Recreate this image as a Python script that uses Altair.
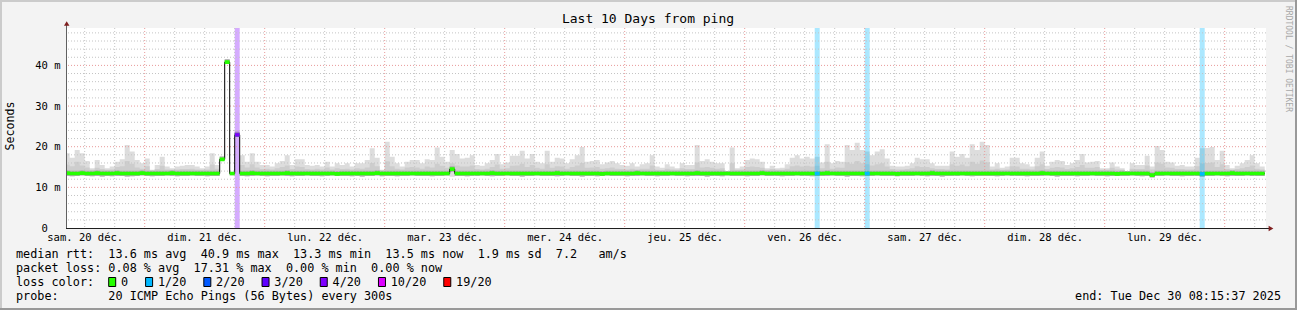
import altair as alt
import numpy as np
import pandas as pd

# ---------------- data ----------------
day_labels = ["sam. 20 déc.", "dim. 21 déc.", "lun. 22 déc.", "mar. 23 déc.", "mer. 24 déc.",
              "jeu. 25 déc.", "ven. 26 déc.", "sam. 27 déc.", "dim. 28 déc.", "lun. 29 déc."]

# time axis: hours since Sat 20 Dec 00:00 ; graph covers 08:15:37 + 10 days
range_start_h = 8 + 15 / 60 + 37 / 3600
range_end_h = range_start_h + 240
first_bar_h = 8          # hourly consolidated rows start at 08:00

# max ping of each hour (ms)
top_ms = [
    18.4,17.3,19.2,18.4,16.5,14.7,16.7,15.5,14.7,15.1,16.3,16.9,20.4,18.8,16.7,15.9,17.1,14.3,15.5,17.5,15.1,14.7,15.1,15.3,
    15.5,15.5,15.1,14.7,15.1,18.4,15.5,17.6,41.5,13.8,24.0,17.9,16.3,18.4,16.3,15.5,15.5,15.1,15.9,16.5,17.9,15.5,16.9,16.9,
    15.5,15.3,15.5,15.1,16.3,15.1,15.9,15.5,15.9,15.1,15.9,15.9,16.7,19.6,17.3,14.3,21.2,17.5,15.9,15.1,16.3,16.7,16.7,15.9,
    16.9,16.7,19.8,17.5,16.3,19.2,18.2,17.1,17.3,17.9,15.5,15.3,15.9,16.7,18.2,15.7,16.1,17.8,17.8,19.0,17.1,18.2,16.3,15.9,
    19.0,16.3,17.3,17.1,15.9,16.9,17.9,19.9,16.3,16.5,16.7,15.7,16.1,16.5,15.9,15.5,15.3,15.9,15.1,15.7,15.9,17.9,15.1,14.8,
    15.7,15.1,14.7,15.9,15.5,15.5,20.4,16.5,16.9,16.3,15.9,15.9,14.0,19.8,14.7,15.1,16.7,17.1,16.9,16.3,14.7,15.3,14.7,14.8,
    15.7,17.3,17.9,17.1,17.5,17.1,17.5,16.1,20.6,15.9,16.5,16.3,20.4,19.2,21.0,19.2,18.8,17.9,18.8,19.4,17.1,15.3,15.1,15.1,
    15.3,15.9,17.3,16.9,16.9,15.9,15.3,15.3,15.3,18.8,17.5,18.2,17.3,20.6,19.2,21.2,20.4,15.1,15.9,14.8,15.1,17.3,17.3,15.9,
    15.7,15.1,17.3,18.8,15.3,16.3,16.7,16.5,15.5,15.9,16.7,18.2,16.1,16.3,16.5,14.7,14.7,16.1,15.1,14.7,14.0,15.9,15.5,15.5,
    17.8,15.1,20.2,19.2,16.3,16.1,15.3,15.5,15.1,15.1,17.3,19.6,19.7,19.9,16.7,19.0,15.5,14.7,15.3,15.9,16.7,17.9,15.9,15.1,
]
# upper edge of the denser (mid grey) smoke
mid_ms = [
    15.6,15.2,16.3,15.4,14.9,14.3,14.8,14.5,14.3,14.4,15.0,15.2,16.5,15.8,14.9,14.6,15.2,14.1,14.5,15.3,14.4,14.3,14.4,14.5,
    14.5,14.6,14.4,14.3,14.4,15.6,14.6,17.3,41.2,13.8,23.6,15.5,14.9,15.7,14.9,14.5,14.6,14.4,14.7,15.0,15.4,14.5,15.1,15.0,
    14.5,14.4,14.6,14.4,14.9,14.4,14.7,14.5,14.6,14.4,14.7,14.6,14.9,16.0,15.2,14.1,16.4,15.2,14.6,14.4,14.9,15.0,14.9,14.6,
    15.1,14.9,15.8,15.3,14.8,15.9,15.4,15.1,15.1,15.4,14.5,14.4,14.6,15.0,15.6,14.6,14.7,15.3,15.4,15.8,15.0,15.5,14.8,14.6,
    15.7,14.8,15.2,15.1,14.6,15.0,15.4,16.0,14.8,14.9,15.0,14.6,14.7,14.9,14.6,14.5,14.4,14.6,14.4,14.6,14.6,15.4,14.3,14.2,
    14.6,14.4,14.3,14.7,14.5,14.5,16.1,14.9,15.0,14.8,14.6,14.7,14.0,15.9,14.3,14.4,15.0,15.1,15.0,14.8,14.3,14.5,14.3,14.3,
    14.6,15.2,15.4,15.1,15.3,15.1,15.3,14.7,16.3,14.6,14.9,14.8,16.2,15.8,16.5,15.9,15.7,15.4,15.7,15.9,15.1,14.5,14.4,14.4,
    14.5,14.7,15.2,15.0,15.0,14.7,14.5,14.5,14.4,15.7,15.3,15.6,15.2,16.3,15.8,16.6,16.2,14.4,14.6,14.3,14.4,15.2,15.1,14.6,
    14.6,14.4,15.2,15.7,14.5,14.8,15.0,14.9,14.5,14.7,15.0,15.5,14.8,14.8,15.0,14.3,14.3,14.8,14.4,14.3,14.0,14.6,14.5,14.5,
    15.4,14.4,16.1,15.8,14.9,14.8,14.5,14.5,14.4,14.4,15.2,15.9,16.0,16.1,15.0,15.7,14.5,14.3,14.5,14.7,15.0,15.4,14.6,14.4,
]
# min ping of each hour (ms)
min_ms = [
    12.8,12.7,12.8,12.9,12.8,12.7,12.8,12.6,12.8,12.7,12.8,12.8,12.6,12.7,12.8,12.9,12.8,12.7,12.8,12.8,12.9,12.8,12.7,12.8,
    12.8,12.9,12.8,12.8,12.7,12.8,12.8,16.6,40.5,13.0,22.6,12.8,12.7,12.8,12.9,12.8,12.7,12.8,12.8,12.9,12.8,12.7,12.8,12.8,
    12.9,12.8,12.8,12.7,12.8,12.9,12.8,12.8,12.8,12.7,12.8,12.6,12.8,12.8,12.9,12.7,12.8,12.8,12.7,12.8,12.8,12.9,12.8,12.8,
    12.8,12.7,12.8,12.8,12.9,12.6,12.8,12.8,12.7,12.8,12.8,12.9,12.8,12.7,12.8,12.8,12.9,12.8,12.8,12.6,12.8,12.8,12.9,12.8,
    12.8,12.8,12.7,12.8,12.9,12.8,12.8,12.6,12.8,12.8,12.7,12.8,12.9,12.8,12.8,12.8,12.7,12.8,12.8,12.9,12.8,12.8,12.7,12.8,
    12.8,12.9,12.8,12.8,12.7,12.8,12.8,12.8,12.6,12.8,12.8,12.7,12.9,12.8,12.8,12.8,12.7,12.8,12.8,12.9,12.8,12.8,12.8,12.7,
    12.8,12.8,12.9,12.8,12.8,12.7,12.8,12.8,12.8,12.9,12.8,12.8,12.6,12.8,12.8,12.7,12.8,12.8,12.9,12.8,12.8,12.8,12.7,12.8,
    12.8,12.8,12.9,12.8,12.7,12.8,12.8,12.6,12.8,12.8,12.8,12.9,12.8,12.7,12.8,12.8,12.8,12.8,12.7,12.8,12.9,12.8,12.8,12.8,
    12.7,12.8,12.8,12.8,12.9,12.8,12.6,12.8,12.8,12.8,12.7,12.8,12.8,12.9,12.8,12.8,12.7,12.8,12.8,12.8,12.8,12.9,12.8,12.7,
    12.8,12.4,12.8,12.8,12.9,12.8,12.8,12.7,12.8,12.8,12.8,12.6,12.8,12.8,12.9,12.8,12.7,12.8,12.8,12.8,12.9,12.8,12.8,12.8,
]
# median rtt of each hour (ms)
median_ms = [
    13.5,13.4,13.4,13.5,13.4,13.4,13.5,13.4,13.4,13.4,13.5,13.4,13.4,13.4,13.4,13.5,13.4,13.4,13.4,13.4,13.4,13.5,13.4,13.4,
    13.4,13.4,13.4,13.4,13.4,13.4,13.4,16.9,40.8,13.4,22.9,13.4,13.4,13.5,13.4,13.4,13.4,13.4,13.4,13.4,13.5,13.4,13.4,13.4,
    13.4,13.4,13.4,13.4,13.4,13.4,13.3,13.4,13.4,13.4,13.4,13.4,13.4,13.4,13.5,13.4,13.4,13.4,13.4,13.4,13.4,13.4,13.4,13.4,
    13.4,13.4,13.4,13.4,13.4,14.5,13.4,13.4,13.4,13.4,13.4,13.4,13.4,13.5,13.4,13.4,13.4,13.4,13.4,13.4,13.4,13.4,13.4,13.4,
    13.4,13.4,13.5,13.4,13.4,13.4,13.4,13.4,13.4,13.4,13.4,13.3,13.4,13.4,13.4,13.4,13.4,13.4,13.5,13.4,13.4,13.4,13.4,13.4,
    13.4,13.4,13.4,13.4,13.4,13.4,13.5,13.4,13.4,13.4,13.4,13.4,13.4,13.4,13.4,13.4,13.4,13.4,13.4,13.5,13.4,13.4,13.4,13.4,
    13.4,13.4,13.4,13.4,13.4,13.4,13.4,13.4,13.5,13.4,13.4,13.4,13.4,13.4,13.4,13.4,13.4,13.4,13.4,13.4,13.4,13.4,13.3,13.4,
    13.4,13.4,13.4,13.4,13.4,13.5,13.4,13.4,13.4,13.4,13.4,13.4,13.4,13.4,13.4,13.4,13.4,13.4,13.4,13.4,13.4,13.4,13.4,13.4,
    13.4,13.4,13.4,13.5,13.4,13.4,13.4,13.4,13.4,13.4,13.4,13.4,13.4,13.4,13.4,13.4,13.4,13.4,13.3,13.4,13.4,13.4,13.4,13.4,
    13.4,13.0,13.4,13.4,13.4,13.4,13.4,13.4,13.4,13.4,13.4,13.3,13.4,13.4,13.4,13.4,13.4,13.5,13.4,13.4,13.4,13.4,13.4,13.4,
]
# lost pings (out of 20) of each hour
loss_pings = [
    0,0,0,0,0,0,0,0,0,0,0,0,0,0,0,0,0,0,0,0,0,0,0,0,
    0,0,0,0,0,0,0,0,0,0,3.46,0,0,0,0,0,0,0,0,0,0,0,0,0,
    0,0,0,0,0,0,0,0,0,0,0,0,0,0,0,0,0,0,0,0,0,0,0,0,
    0,0,0,0,0,0,0,0,0,0,0,0,0,0,0,0,0,0,0,0,0,0,0,0,
    0,0,0,0,0,0,0,0,0,0,0,0,0,0,0,0,0,0,0,0,0,0,0,0,
    0,0,0,0,0,0,0,0,0,0,0,0,0,0,0,0,0,0,0,0,0,0,0,0,
    0,0,0,0,0,0,0.13,0,0,0,0,0,0,0,0,0,0.13,0,0,0,0,0,0,0,
    0,0,0,0,0,0,0,0,0,0,0,0,0,0,0,0,0,0,0,0,0,0,0,0,
    0,0,0,0,0,0,0,0,0,0,0,0,0,0,0,0,0,0,0,0,0,0,0,0,
    0,0,0,0,0,0,0,0,0,0,0,0.13,0,0,0,0,0,0,0,0,0,0,0,0,
]
loss_levels = [0, 1, 2, 3, 4, 10, 19]
loss_names = ["0", "1/20", "2/20", "3/20", "4/20", "10/20", "19/20"]
loss_colors = ["#26ff00", "#00b8ff", "#0059ff", "#5e00ff", "#7e00ff", "#dd00ff", "#ff0000"]

y_ticks = [0, 10, 20, 30, 40]
y_max = 49.2

title_text = "Last 10 Days from ping"
y_title = "Seconds"
legend_lines = [
    "median rtt:  13.6 ms avg  40.9 ms max  13.3 ms min  13.5 ms now  1.9 ms sd  7.2   am/s",
    "packet loss: 0.08 % avg  17.31 % max  0.00 % min  0.00 % now",
    "loss color:",
    "probe:       20 ICMP Echo Pings (56 Bytes) every 300s",
]
end_text = "end: Tue Dec 30 08:15:37 2025"
watermark = "RRDTOOL / TOBI OETIKER"

for arr in (top_ms, mid_ms, min_ms, median_ms, loss_pings):
    assert len(arr) == 240, len(arr)

# ---------------- tables ----------------
def color_for_loss(v):
    for lv, c in zip(loss_levels, loss_colors):
        if v <= lv:
            return c
    return loss_colors[-1]

df = pd.DataFrame({
    "t": first_bar_h + np.arange(240, dtype=float),
    "top": top_ms, "mid": mid_ms, "lo": min_ms, "med": median_ms, "loss": loss_pings,
})
df["t2"] = df["t"] + 1
df["band_lo"] = df["med"] - 0.45
df["band_hi"] = df["med"] + 0.45
df["dark_lo"] = np.maximum(df["lo"], df["med"] - 0.75)
df["dark_hi"] = np.minimum(df["top"], df["med"] + 0.7)
df["color"] = [color_for_loss(v) for v in df["loss"]]

last = df.iloc[[-1]].copy()
last["t"] = last["t2"]
step_df = pd.concat([df, last], ignore_index=True)
loss_df = df[df["loss"] > 0].copy()

# ---------------- layout / style ----------------
FONT = "DejaVu Sans Mono"
W, H = 1200, 200
PAD_L, PAD_T, PAD_R, PAD_B = 66, 28, 31, 82
LEG_SIZE = 11.8
CHAR_W = LEG_SIZE * 0.602
NB = "\u00a0"

xs = alt.Scale(domain=[range_start_h, range_end_h], nice=False, zero=False)
ys = alt.Scale(domain=[0, y_max], nice=False, zero=False)

label_expr = "[" + ",".join("'%s'" % s.replace(" ", NB) for s in day_labels) + "][floor(datum.value / 24)]"
x_axis = alt.Axis(values=[12 + 24 * i for i in range(len(day_labels))], labelExpr=label_expr,
                  grid=False, ticks=False, domain=False, title=None, labelFont=FONT,
                  labelFontSize=10.5, labelColor="#000000", labelPadding=4, labelAngle=0,
                  labelOverlap=False, labelFlush=False, labelBaseline="top")
y_axis = alt.Axis(values=y_ticks, labelExpr="datum.value == 0 ? '0' : datum.value + '" + NB + "m'",
                  grid=False, ticks=False, domain=False, title=None, labelFont=FONT,
                  labelFontSize=10.5, labelColor="#000000",
                  labelPadding={"condition": {"test": "datum.value == 0", "value": 18.6}, "value": 6},
                  labelOverlap=False, labelFlush=False, labelBaseline="middle")

X = lambda f="t": alt.X(f + ":Q", scale=xs, axis=x_axis)
Y = lambda f: alt.Y(f + ":Q", scale=ys, axis=y_axis)
one = pd.DataFrame({"k": [0]})

def px(x):
    return x - PAD_L

def py(y):
    return y - PAD_T

def text(s, x, y, size=LEG_SIZE, align="left", angle=0, color="#000000", baseline="middle"):
    return alt.Chart(one).mark_text(text=s.replace(" ", NB), font=FONT, fontSize=size, align=align,
                                    baseline=baseline, angle=angle, color=color).encode(
        x=alt.value(px(x)), y=alt.value(py(y)))

# smoke
smoke_light = alt.Chart(step_df).mark_area(interpolate="step-after", color="#dddddd", clip=True).encode(
    x=X(), y=Y("lo"), y2="top:Q")
smoke_mid = alt.Chart(step_df).mark_area(interpolate="step-after", color="#cdcdcd", clip=True).encode(
    x=X(), y=Y("med"), y2="mid:Q")
smoke_dark = alt.Chart(step_df).mark_area(interpolate="step-after", color="#ababab", clip=True).encode(
    x=X(), y=Y("dark_lo"), y2="dark_hi:Q")

# grid
six_h = [h for h in range(12, int(range_end_h) + 1, 6) if h % 24 != 0]
midnights = [h for h in range(24, int(range_end_h) + 1, 24)]
minor_ms = [v for v in range(2, int(y_max) + 1, 2) if v % 10 != 0]
major_ms = [10, 20, 30, 40]
GRID_C, MGRID_C, DASH = "#c4c4c4", "#e89a9a", [1, 2]
grid_v = alt.Chart(pd.DataFrame({"t": six_h})).mark_rule(color=GRID_C, strokeDash=DASH).encode(x=X())
grid_h = alt.Chart(pd.DataFrame({"v": minor_ms})).mark_rule(color=GRID_C, strokeDash=DASH).encode(y=Y("v"))
mgrid_v = alt.Chart(pd.DataFrame({"t": midnights})).mark_rule(color=MGRID_C, strokeDash=DASH).encode(x=X())
mgrid_h = alt.Chart(pd.DataFrame({"v": major_ms})).mark_rule(color=MGRID_C, strokeDash=DASH).encode(y=Y("v"))

# loss background bars
loss_bg = alt.Chart(loss_df).mark_rect(opacity=0.33).encode(
    x=X(), x2="t2:Q", y=alt.value(0), y2=alt.value(H), color=alt.Color("color:N", scale=None))

# median
med_line = alt.Chart(step_df).mark_line(interpolate="step-after", color="#000000", strokeWidth=1, clip=True).encode(
    x=X(), y=Y("med"))
med_band = alt.Chart(step_df).mark_area(interpolate="step-after", color=loss_colors[0], clip=True).encode(
    x=X(), y=Y("band_lo"), y2="band_hi:Q")
med_loss = alt.Chart(loss_df).mark_rect().encode(
    x=X(), x2="t2:Q", y=Y("band_lo"), y2="band_hi:Q", color=alt.Color("color:N", scale=None))

# axes lines and arrows
AXIS_C, ARROW_C = "#1f1f1f", "#7f1f1f"
x_line = alt.Chart(one).mark_rule(color=AXIS_C, strokeWidth=1).encode(
    x=alt.value(0), x2=alt.value(px(1270)), y=alt.value(H + 0.5))
y_line = alt.Chart(one).mark_rule(color="#606060", strokeWidth=1).encode(
    x=alt.value(0.5), y=alt.value(py(24)), y2=alt.value(H))
x_arrow = alt.Chart(one).mark_point(shape="triangle-right", filled=True, size=30, color=ARROW_C, opacity=1).encode(
    x=alt.value(px(1271)), y=alt.value(H + 0.5))
y_arrow = alt.Chart(one).mark_point(shape="triangle-up", filled=True, size=30, color=ARROW_C, opacity=1).encode(
    x=alt.value(0.7), y=alt.value(py(23.5)))

# frame of the picture
TOT_W, TOT_H = PAD_L + W + PAD_R, PAD_T + H + PAD_B
frame = pd.DataFrame({
    "x": [0, 0, 0, TOT_W - 2], "x2": [TOT_W, 2, TOT_W, TOT_W],
    "y": [0, 0, TOT_H - 2, 0], "y2": [2, TOT_H, TOT_H, TOT_H],
    "c": ["#cbcbcb", "#cbcbcb", "#999999", "#999999"],
})
frame_marks = []
for _, r in frame.iterrows():
    frame_marks.append(alt.Chart(one).mark_rect(color=r["c"]).encode(
        x=alt.value(px(r["x"])), x2=alt.value(px(r["x2"])),
        y=alt.value(py(r["y"])), y2=alt.value(py(r["y2"]))))

# texts
texts = [
    text(title_text, 648, 19, size=13, align="center"),
    text(y_title, 11, 126, size=11.6, align="center", angle=270),
    text(watermark, 1288, 59, size=8, align="center", angle=90, color="#a8a8a8"),
    text(end_text, 1281, 296, align="right"),
]
for i, line in enumerate(legend_lines):
    texts.append(text(line, 16, 254 + 14 * i))

legend_marks = []
bx = 108.7
for name, col in zip(loss_names, loss_colors):
    legend_marks.append(alt.Chart(one).mark_rect(fill=col, stroke="#000000", strokeWidth=1).encode(
        x=alt.value(px(bx)), x2=alt.value(px(bx + 7)), y=alt.value(py(277.5)), y2=alt.value(py(286.5))))
    tx = bx + 12.3
    legend_marks.append(text(name, tx, 282))
    bx = tx + len(name) * CHAR_W + 17.5

chart = alt.layer(
    smoke_light, smoke_mid, smoke_dark,
    loss_bg,
    grid_v, grid_h, mgrid_v, mgrid_h,
    med_line, med_band, med_loss,
    x_line, y_line, x_arrow, y_arrow,
    *frame_marks,
    *texts, *legend_marks,
).properties(
    width=W, height=H,
    autosize=alt.AutoSizeParams(type="none"),
    padding={"left": PAD_L, "top": PAD_T, "right": PAD_R, "bottom": PAD_B},
).configure(background="#f3f3f3").configure_view(fill="white", stroke=None)

chart.save("out.html", embed_options={"renderer": "svg", "actions": False})
